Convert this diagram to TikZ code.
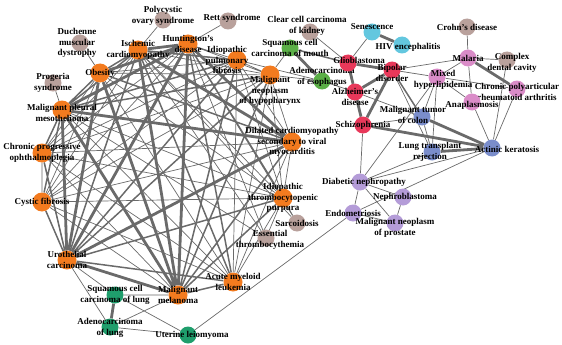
\documentclass[tikz,border=0pt]{standalone}
\usepackage{fontspec}
\setmainfont{Liberation Serif}
\pgfdeclarelayer{edges}
\pgfsetlayers{edges,main}

\definecolor{cOrange}{HTML}{F37B1F}
\definecolor{cTaupe}{HTML}{B9A19C}
\definecolor{cGreen}{HTML}{5BAF47}
\definecolor{cTeal}{HTML}{1F9E6C}
\definecolor{cRed}{HTML}{E8385A}
\definecolor{cCyan}{HTML}{63C7DF}
\definecolor{cPink}{HTML}{DA8CC8}
\definecolor{cBlue}{HTML}{7A8DCB}
\definecolor{cPurple}{HTML}{B49CD8}
\definecolor{cEdge}{HTML}{6A6A6A}

\begin{document}
\begin{tikzpicture}[x=1pt, y=-1pt,
  dot/.style={circle, minimum size=17pt, inner sep=0pt},
  big/.style={dot, minimum size=19pt},
  dis/.style={font=\bfseries\fontsize{9}{10.5}\selectfont, align=center},
  w1/.style={draw=cEdge, line width=0.7pt},
  w2/.style={draw=cEdge, line width=1.5pt},
  w3/.style={draw=cEdge, line width=2.8pt}]

  \useasboundingbox (0,0) rectangle (562,345);

  % orange cluster
  \node[big, fill=cOrange, label={[dis]center:Obesity}] (obes) at (100,73) {};
  \node[big, fill=cOrange, label={[dis]center:{Ischemic\\cardiomyopathy}}] (isch) at (138,50) {};
  \node[big, fill=cOrange, label={[dis]center:{Huntington's\\disease}}] (hunt) at (188,44) {};
  \node[big, fill=cOrange, label={[dis, xshift=-10pt]center:{Idiopathic\\pulmonary\\fibrosis}}] (ipf) at (237,60) {};
  \node[big, fill=cOrange, label={[dis, yshift=-16pt]center:{Malignant\\neoplasm\\of hypopharynx}}] (hypo) at (270,75) {};
  \node[big, fill=cOrange, label={[dis, yshift=-3pt]center:{Malignant pleural\\mesothelioma}}] (meso) at (62,110) {};
  \node[big, fill=cOrange, label={[dis]center:{Chronic progressive\\ophthalmoplegia}}] (cpeo) at (42,153) {};
  \node[big, fill=cOrange, label={[dis]center:Cystic fibrosis}] (cf) at (42,202) {};
  \node[big, fill=cOrange, label={[dis]center:{Urothelial\\carcinoma}}] (uro) at (67,260) {};
  \node[big, fill=cOrange, label={[dis]center:{Malignant\\melanoma}}] (mel) at (178,295) {};
  \node[big, fill=cOrange, label={[dis]center:{Acute myeloid\\leukemia}}] (aml) at (233,282) {};
  \node[big, fill=cOrange, label={[dis]center:{Idiopathic\\thrombocytopenic\\purpura}}] (itp) at (283,198) {};
  \node[big, fill=cOrange, label={[dis]center:{Dilated cardiomyopathy\\secondary to viral\\myocarditis}}] (dcm) at (292,142) {};

  % taupe nodes
  \node[dot, fill=cTaupe, label={[dis, yshift=4pt]center:{Polycystic\\ovary syndrome}}] (pcos) at (163,20) {};
  \node[dot, fill=cTaupe, label={[dis, xshift=-3pt]center:{Duchenne\\muscular\\dystrophy}}] (dmd) at (80,43) {};
  \node[dot, fill=cTaupe, label={[dis]center:{Progeria\\syndrome}}] (prog) at (53,83) {};
  \node[dot, fill=cTaupe, label={[dis, xshift=4pt, yshift=3pt]center:Rett syndrome}] (rett) at (228,21) {};
  \node[dot, fill=cTaupe, label={[dis, xshift=-3pt, yshift=6pt]center:{Clear cell carcinoma\\of kidney}}] (ccrcc) at (310,32) {};
  \node[dot, fill=cTaupe, label={[dis]center:Crohn's disease}] (crohn) at (467,27) {};
  \node[dot, fill=cTaupe, label={[dis, xshift=5pt, yshift=-3pt]center:{Complex\\dental cavity}}] (dental) at (507,60) {};
  \node[dot, fill=cTaupe, label={[dis]center:Sarcoidosis}] (sarc) at (297,223) {};
  \node[dot, fill=cTaupe, label={[dis, xshift=4pt, yshift=-2pt]center:{Essential\\thrombocythemia}}] (et) at (266,238) {};

  % green nodes
  \node[dot, fill=cGreen, label={[dis]center:{Squamous cell\\carcinoma of mouth}}] (sccm) at (290,48) {};
  \node[dot, fill=cGreen, label={[dis, yshift=4pt]center:{Adenocarcinoma\\of esophagus}}] (eac) at (322,81) {};
  \node[dot, fill=cTeal, label={[dis]center:{Squamous cell\\carcinoma of lung}}] (sccl) at (115,295) {};
  \node[dot, fill=cTeal, label={[dis, yshift=-1pt]center:{Adenocarcinoma\\of lung}}] (luad) at (110,327) {};
  \node[dot, fill=cTeal, label={[dis, xshift=4pt]center:Uterine leiomyoma}] (ul) at (188,335) {};

  % red nodes
  \node[dot, fill=cRed, label={[dis, xshift=11pt, yshift=3pt]center:Glioblastoma}] (gbm) at (348,63) {};
  \node[dot, fill=cRed, label={[dis, yshift=-3pt]center:{Bipolar\\disorder}}] (bip) at (392,70) {};
  \node[dot, fill=cRed, label={[dis, yshift=-5pt]center:{Alzheimer's\\disease}}] (alz) at (355,92) {};
  \node[dot, fill=cRed, label={[dis]center:Schizophrenia}] (scz) at (363,125) {};

  % cyan nodes
  \node[dot, fill=cCyan, label={[dis, yshift=5pt]center:Senescence}] (sen) at (372,32) {};
  \node[dot, fill=cCyan, label={[dis, xshift=6pt, yshift=-2pt]center:HIV encephalitis}] (hiv) at (402,45) {};

  % pink nodes
  \node[dot, fill=cPink, label={[dis]center:Malaria}] (mal) at (468,58) {};
  \node[dot, fill=cPink, label={[dis, xshift=6pt, yshift=-3pt]center:{Mixed\\hyperlipidemia}}] (mixh) at (437,77) {};
  \node[dot, fill=cPink, label={[dis, yshift=-3pt]center:{Chronic polyarticular\\rheumatoid arthritis}}] (cpra) at (517,89) {};
  \node[dot, fill=cPink, label={[dis, yshift=-3pt]center:Anaplasmosis}] (anap) at (472,102) {};

  % blue nodes
  \node[dot, fill=cBlue, label={[dis, xshift=-9pt, yshift=2pt]center:{Malignant tumor\\of colon}}] (crc) at (422,117) {};
  \node[dot, fill=cBlue, label={[dis, xshift=-2pt]center:{Lung transplant\\rejection}}] (ltr) at (432,152) {};
  \node[dot, fill=cBlue, label={[dis, xshift=15pt, yshift=-1pt]center:Actinic keratosis}] (ak) at (492,148) {};

  % purple nodes
  \node[dot, fill=cPurple, label={[dis, xshift=4pt]center:Diabetic nephropathy}] (dn) at (360,182) {};
  \node[dot, fill=cPurple, label={[dis, xshift=2pt]center:Nephroblastoma}] (nb) at (403,197) {};
  \node[dot, fill=cPurple, label={[dis]center:Endometriosis}] (endo) at (353,213) {};
  \node[dot, fill=cPurple, label={[dis, yshift=-5pt]center:{Malignant neoplasm\\of prostate}}] (pca) at (395,223) {};

  \begin{pgfonlayer}{edges}
  % heavy links
  \draw[w3] (meso) -- (uro) (meso) -- (dcm) (meso) -- (mel) (hunt) -- (isch)
            (hunt) -- (uro) (hunt) -- (mel) (uro) -- (mel) (isch) -- (dcm)
            (obes) -- (hunt) (obes) -- (mel) (isch) -- (mel) (meso) -- (hunt)
            (uro) -- (dcm) (hunt) -- (dcm) (obes) -- (uro);
  \draw[w3] (bip) -- (alz) (gbm) -- (bip) (gbm) -- (alz) (alz) -- (scz)
            (bip) -- (scz) (sen) -- (hiv) (sccm) -- (eac) (mal) -- (cpra)
            (crc) -- (ak) (ltr) -- (ak) (scz) -- (ak) (sccl) -- (luad);

  % medium links
  \draw[w2] (obes) -- (isch) (obes) -- (dcm) (meso) -- (isch) (meso) -- (obes)
            (cf) -- (uro) (cpeo) -- (uro) (cf) -- (meso) (cpeo) -- (meso)
            (mel) -- (aml) (uro) -- (aml) (hunt) -- (aml) (isch) -- (uro)
            (ipf) -- (uro) (ipf) -- (mel) (hypo) -- (mel) (hypo) -- (uro)
            (meso) -- (ipf) (meso) -- (hypo) (itp) -- (mel) (itp) -- (uro)
            (dcm) -- (mel) (isch) -- (aml) (hunt) -- (itp) (ipf) -- (isch)
            (sccm) -- (gbm) (gbm) -- (scz) (bip) -- (crc);

  % light links
  \draw[w1] (obes) -- (ipf) (obes) -- (hypo) (obes) -- (cpeo) (obes) -- (cf)
            (obes) -- (aml) (obes) -- (itp) (isch) -- (ipf) (isch) -- (hypo)
            (isch) -- (cpeo) (isch) -- (cf) (isch) -- (itp) (hunt) -- (ipf)
            (hunt) -- (hypo) (hunt) -- (cpeo) (hunt) -- (cf) (ipf) -- (hypo)
            (ipf) -- (cpeo) (ipf) -- (cf) (ipf) -- (aml) (ipf) -- (itp)
            (ipf) -- (dcm) (hypo) -- (cpeo) (hypo) -- (cf) (hypo) -- (aml)
            (hypo) -- (itp) (hypo) -- (dcm) (meso) -- (aml) (meso) -- (itp)
            (cpeo) -- (cf) (cpeo) -- (mel) (cpeo) -- (aml) (cpeo) -- (itp)
            (cpeo) -- (dcm) (cf) -- (mel) (cf) -- (aml) (cf) -- (itp)
            (cf) -- (dcm) (uro) -- (cpeo) (aml) -- (itp) (aml) -- (dcm)
            (itp) -- (dcm);
  \draw[w1] (pcos) -- (isch) (dmd) -- (obes) (prog) -- (meso) (rett) -- (hunt)
            (sccm) -- (hypo) (eac) -- (hypo) (eac) -- (ipf) (ccrcc) -- (gbm)
            (eac) -- (alz) (sarc) -- (itp) (et) -- (itp) (et) -- (meso)
            (et) -- (hunt) (et) -- (isch) (sarc) -- (hunt) (sarc) -- (isch)
            (sen) -- (gbm) (gbm) -- (mixh) (bip) -- (mal) (bip) -- (mixh)
            (mal) -- (crohn) (mal) -- (dental) (mal) -- (mixh) (mal) -- (anap)
            (mixh) -- (cpra) (mixh) -- (anap) (dental) -- (ak) (mixh) -- (crc)
            (mixh) -- (ltr) (mixh) -- (dn) (bip) -- (ltr) (alz) -- (crc)
            (scz) -- (crc) (crc) -- (ltr) (scz) -- (dn) (dn) -- (ak)
            (dn) -- (ltr) (endo) -- (ak) (dn) -- (nb) (dn) -- (endo)
            (dn) -- (pca) (nb) -- (pca) (endo) -- (pca) (ul) -- (endo)
            (ul) -- (sccl) (ul) -- (luad) (uro) -- (sccl) (uro) -- (luad)
            (mel) -- (sccl) (mel) -- (luad) (cpra) -- (ak) (anap) -- (ak);
  \end{pgfonlayer}

\end{tikzpicture}
\end{document}
